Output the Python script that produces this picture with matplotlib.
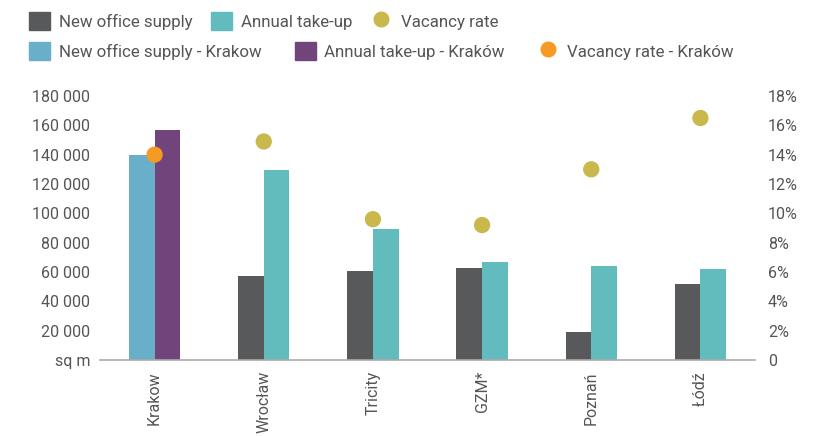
import matplotlib.pyplot as plt
from matplotlib.patches import Patch
from matplotlib.lines import Line2D
from matplotlib.ticker import FuncFormatter

plt.rcParams["font.family"] = ["Roboto", "DejaVu Sans"]

# Daten
miasta = ["Krakow", "Wrocław", "Tricity", "GZM*", "Poznań", "Łódź"]
podaz = [140000, 57300, 60700, 62700, 19100, 51800]      # sq m
popyt = [157000, 129500, 89300, 66800, 64100, 62000]     # sq m
pustostany = [14.0, 14.9, 9.6, 9.2, 13.0, 16.5]          # %

# Farben
C_PODAZ = "#58595b"
C_POPYT = "#62bcbd"
C_VAC = "#c9b84c"
C_PODAZ_K = "#6aafca"
C_POPYT_K = "#72447c"
C_VAC_K = "#f59b23"
C_TEXT = "#555555"

fig = plt.figure(figsize=(8.26, 4.36), dpi=100)
ax = fig.add_axes([100 / 826, 76 / 436, 655 / 826, 264 / 436])
ax2 = ax.twinx()

x = list(range(len(miasta)))
b = 0.235
kol_podaz = [C_PODAZ_K] + [C_PODAZ] * (len(miasta) - 1)
kol_popyt = [C_POPYT_K] + [C_POPYT] * (len(miasta) - 1)
ax.bar([xi - b / 2 for xi in x], podaz, width=b, color=kol_podaz, zorder=2)
ax.bar([xi + b / 2 for xi in x], popyt, width=b, color=kol_popyt, zorder=2)

kol_vac = [C_VAC_K] + [C_VAC] * (len(miasta) - 1)
ax2.scatter(x, pustostany, s=115, color=kol_vac, zorder=3)

ax.set_xlim(-0.5, len(miasta) - 0.5)
ax.set_ylim(0, 180000)
ax2.set_ylim(0, 18)

ax.set_yticks(range(0, 180001, 20000))
ax.yaxis.set_major_formatter(FuncFormatter(
    lambda v, p: "sq m" if v == 0 else f"{int(v):,}".replace(",", " ")))
ax2.set_yticks(range(0, 19, 2))
ax2.yaxis.set_major_formatter(FuncFormatter(
    lambda v, p: "0" if v == 0 else f"{int(v)}%"))

ax.set_xticks(x)
ax.set_xticklabels(miasta, rotation=90, va="top")

for a in (ax, ax2):
    for s in a.spines.values():
        s.set_visible(False)
    a.tick_params(length=0, colors=C_TEXT, labelsize=11.5)
ax.spines["bottom"].set_visible(True)
ax.spines["bottom"].set_color("#aaaaaa")
ax.spines["bottom"].set_linewidth(1.2)
ax.tick_params(axis="y", pad=7)
ax.tick_params(axis="x", pad=8)
ax2.tick_params(axis="y", pad=9.4)
for lab in ax2.get_yticklabels():
    lab.set_ha("left")

# Legende
uchwyty1 = [
    Patch(color=C_PODAZ, label="New office supply"),
    Patch(color=C_POPYT, label="Annual take-up"),
    Line2D([], [], ls="", marker="o", ms=10.5, color=C_VAC, label="Vacancy rate"),
]
uchwyty2 = [
    Patch(color=C_PODAZ_K, label="New office supply - Krakow"),
    Patch(color=C_POPYT_K, label="Annual take-up - Kraków"),
    Line2D([], [], ls="", marker="o", ms=10.5, color=C_VAC_K,
           label="Vacancy rate - Kraków"),
]
opts = dict(ncol=3, frameon=False, fontsize=12.2, handlelength=1.25,
            handleheight=1.2, handletextpad=0.5,
            labelcolor=C_TEXT, loc="center left")
fig.legend(handles=uchwyty1, bbox_to_anchor=(0.017, 1 - 21 / 436),
           columnspacing=1.1, **opts)
fig.legend(handles=uchwyty2, bbox_to_anchor=(0.017, 1 - 51 / 436),
           columnspacing=1.95, **opts)

fig.savefig("out.png", dpi=100)
